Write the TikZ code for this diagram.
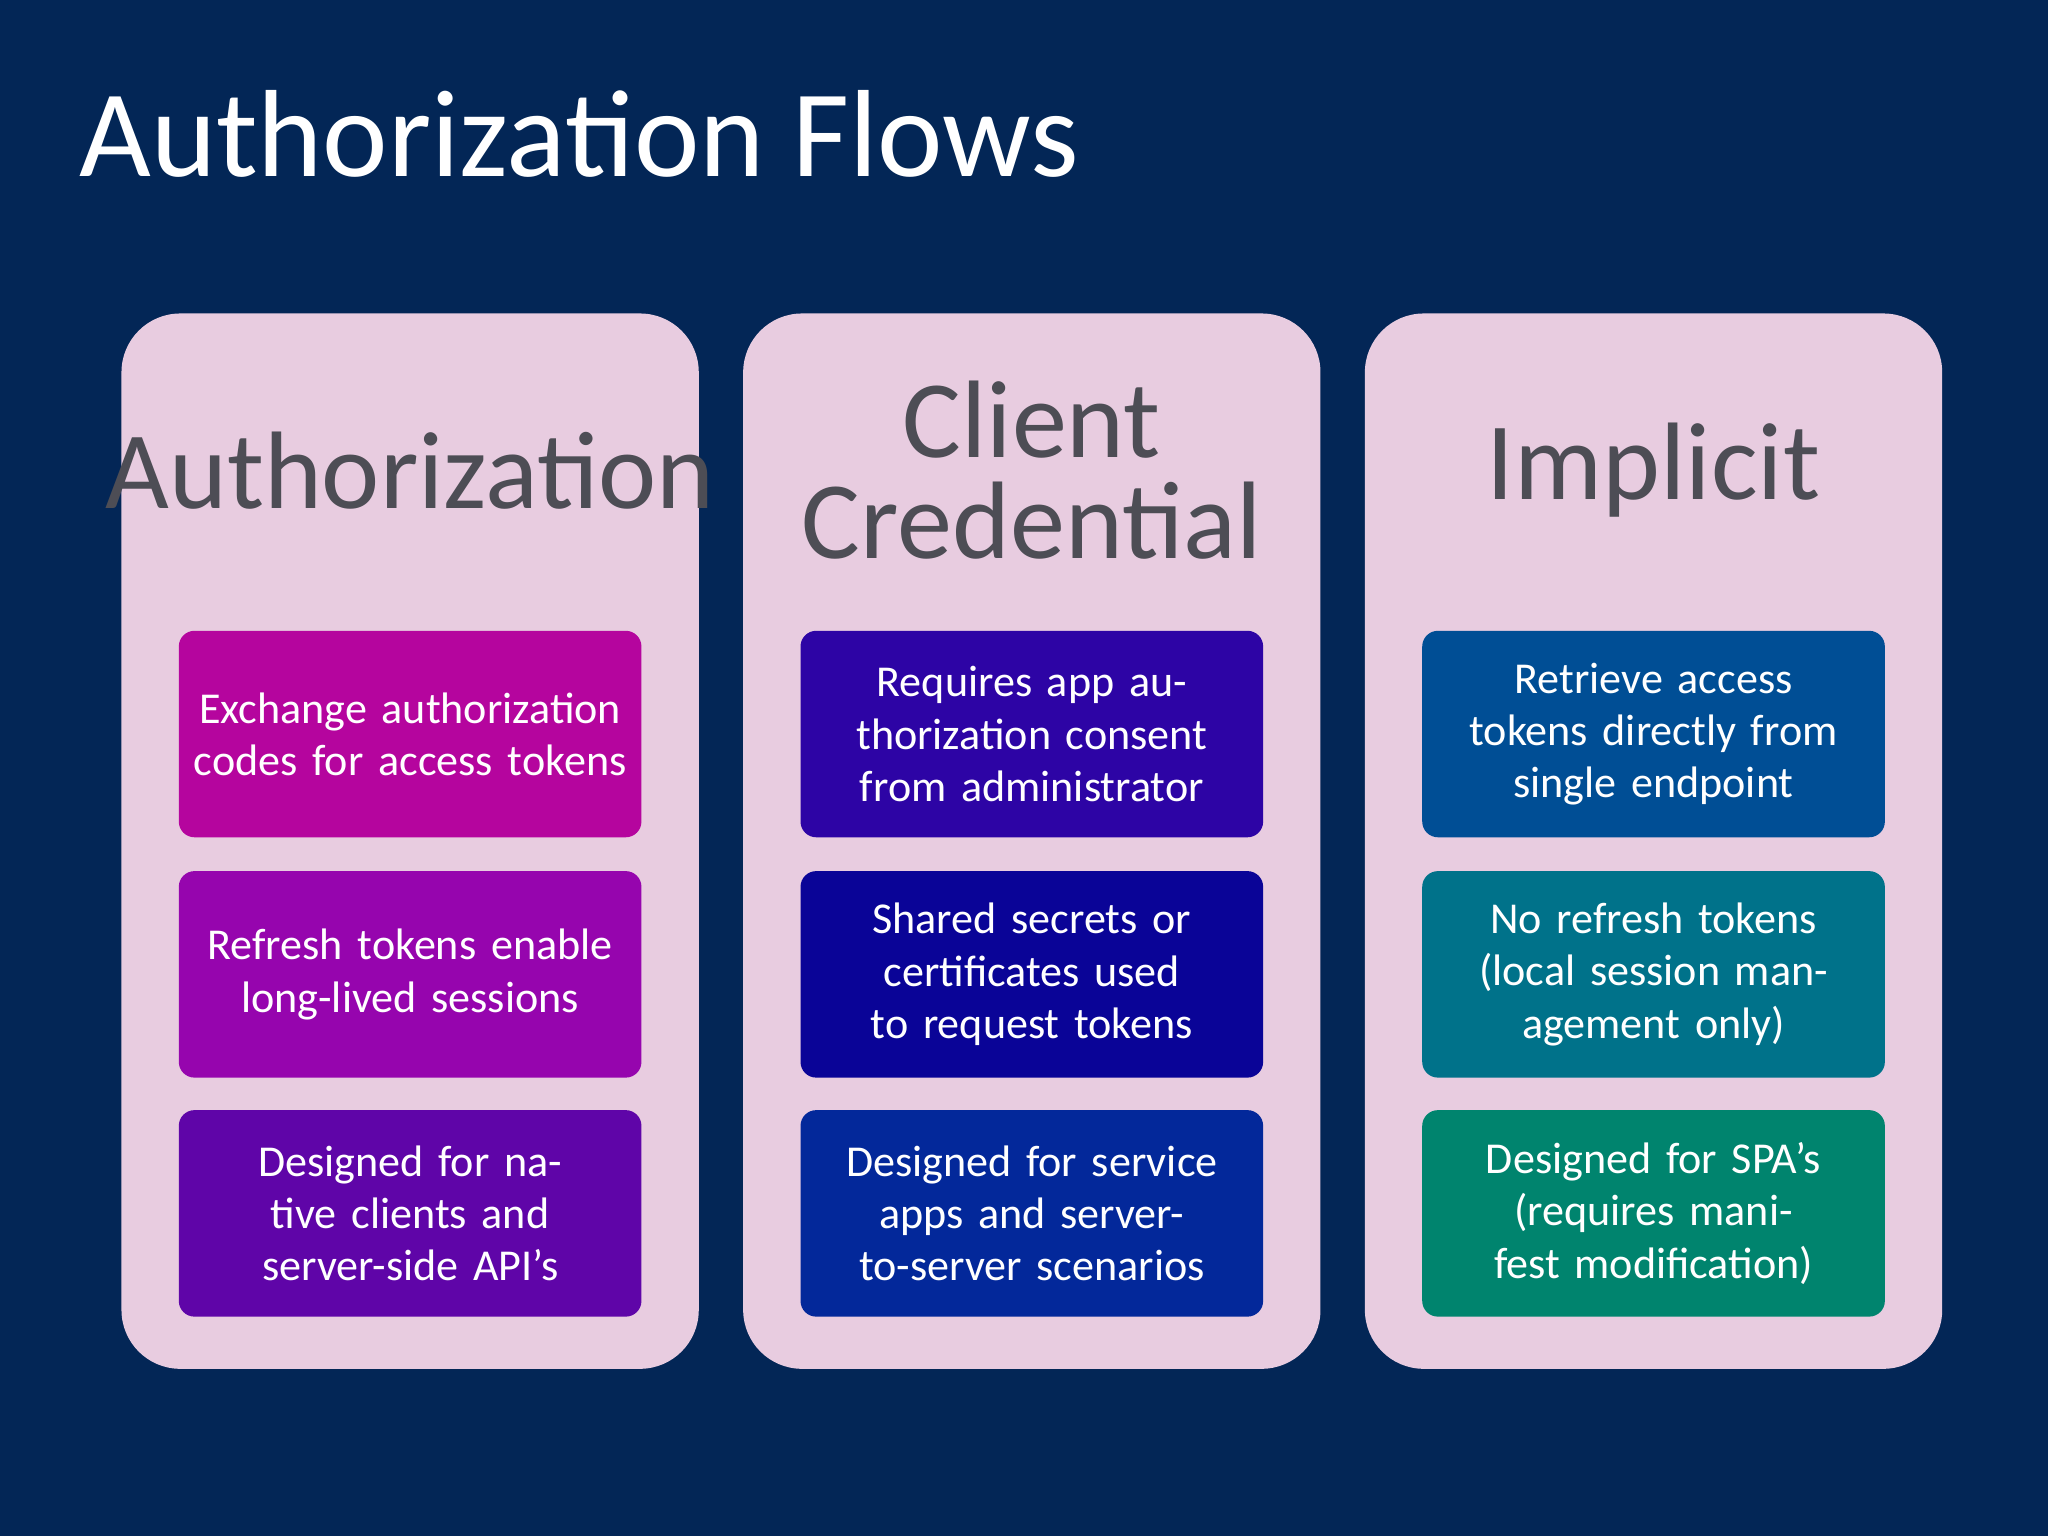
\documentclass[tikz,border=0pt]{standalone}
\usepackage{fontspec}
\setmainfont{Carlito}
\definecolor{bg}{HTML}{032656}
\definecolor{panel}{HTML}{E8CCE0}
\definecolor{hd}{HTML}{4D4D55}
\definecolor{a1}{HTML}{B5059E}\definecolor{a2}{HTML}{9605AE}\definecolor{a3}{HTML}{5F05A8}
\definecolor{b1}{HTML}{2D04A5}\definecolor{b2}{HTML}{0A0497}\definecolor{b3}{HTML}{03289A}
\definecolor{c1}{HTML}{004E95}\definecolor{c2}{HTML}{00728A}\definecolor{c3}{HTML}{00846E}
\begin{document}
\begin{tikzpicture}[x=0.01cm,y=-0.01cm,
 pnl/.style={fill=panel,rounded corners=0.45cm,draw=none},
 bx/.style={rounded corners=0.12cm,draw=none,minimum width=3.54cm,minimum height=1.58cm,text width=3.4cm,align=center,text=white,font=\fontsize{9.6}{11.4}\selectfont,inner sep=0pt},
 hdr/.style={text=hd,align=center,font=\fontsize{24}{22}\selectfont}]
\fill[bg] (0,0) rectangle (1568,1176);
\useasboundingbox (0,0) rectangle (1568,1176);
\node[anchor=base west,text=white,font=\fontsize{27}{30}\selectfont,inner sep=0pt] (title) at (60,135) {Authorization Flows};
\foreach \x/\n in {93/p1,569/p2,1045/p3}{\fill[pnl] (\x,240) rectangle ++(442,808);}
\node[hdr] (h1) at (314,360) {Authorization};
\node[hdr] (h2) at (790,360) {Client\\Credential};
\node[hdr] (h3) at (1266,360) {Implicit};
\node[bx,fill=a1] (a1) at (314,562) {Exchange authorization codes for access tokens};
\node[bx,fill=a2] (a2) at (314,746) {Refresh tokens enable long-lived sessions};
\node[bx,fill=a3] (a3) at (314,929) {Designed for native clients and server-side API’s};
\node[bx,fill=b1] (b1) at (790,562) {Requires app authorization consent from administrator};
\node[bx,fill=b2] (b2) at (790,746) {Shared secrets or certificates used to request tokens};
\node[bx,fill=b3] (b3) at (790,929) {Designed for service apps and server-to-server scenarios};
\node[bx,fill=c1] (c1) at (1266,562) {Retrieve access tokens directly from single endpoint};
\node[bx,fill=c2] (c2) at (1266,746) {No refresh tokens (local session management only)};
\node[bx,fill=c3] (c3) at (1266,929) {Designed for SPA's (requires manifest modification)};
\end{tikzpicture}
\end{document}
